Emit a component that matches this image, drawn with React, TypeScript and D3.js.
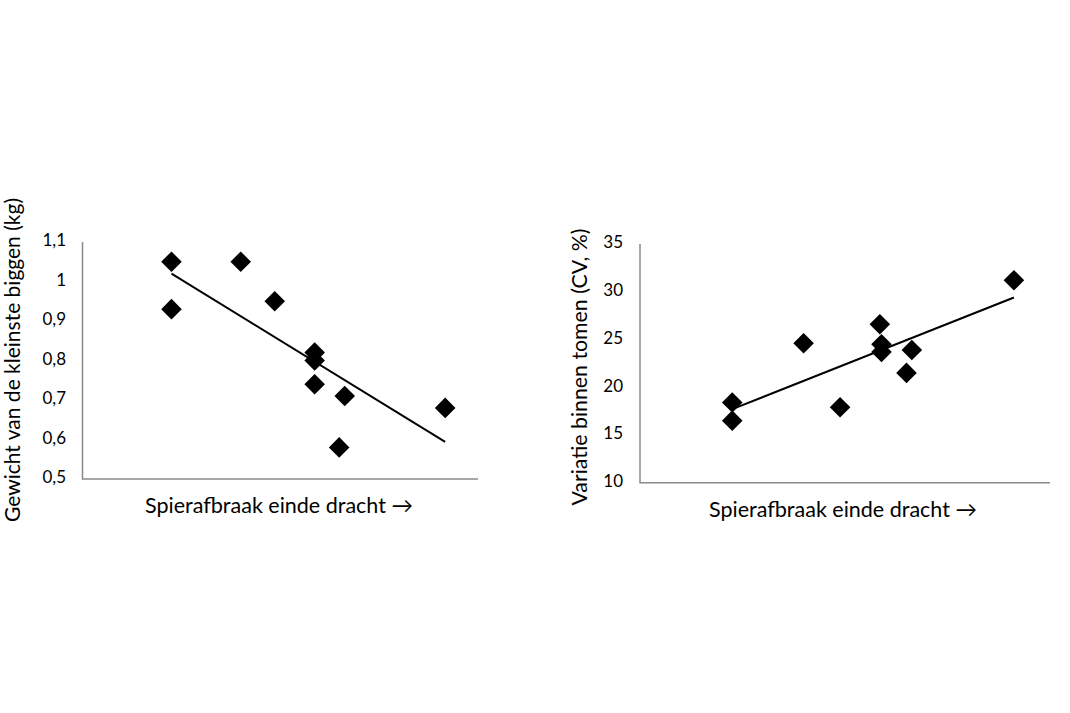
import React from "react";
import * as d3 from "d3";

// Left panel: weight of smallest piglets
const leftX = [2.25, 2.25, 4.0, 4.86, 5.87, 5.87, 5.87, 6.63, 6.49, 9.17];
const leftY = [1.05, 0.93, 1.05, 0.95, 0.82, 0.8, 0.74, 0.71, 0.58, 0.68];
const leftTrendX = [2.25, 9.17];
const leftTrendY = [1.02, 0.594];
const leftTicks = [0.5, 0.6, 0.7, 0.8, 0.9, 1.0, 1.1];
const leftTickLabels = ["0,5", "0,6", "0,7", "0,8", "0,9", "1", "1,1"];

// Right panel: variation within litters
const rightX = [2.25, 2.25, 3.99, 4.88, 5.85, 5.89, 5.89, 6.63, 6.5, 9.12];
const rightY = [18.4, 16.5, 24.6, 17.9, 26.6, 24.5, 23.7, 23.9, 21.5, 31.2];
const rightTrendX = [2.25, 9.12];
const rightTrendY = [17.7, 29.4];
const rightTicks = [10, 15, 20, 25, 30, 35];
const rightTickLabels = ["10", "15", "20", "25", "30", "35"];

const xTitle = "Spierafbraak einde dracht \u2192";
const leftYTitle = "Gewicht van de kleinste biggen (kg)";
const rightYTitle = "Variatie binnen tomen (CV, %)";

const FONT = "Lato, 'Open Sans', sans-serif";

type PanelProps = {
  xs: number[];
  ys: number[];
  tx: number[];
  ty: number[];
  ticks: number[];
  tickLabels: string[];
  yDomain: [number, number];
  xRange: [number, number];
  yRange: [number, number];
  tickX: number;
  yTitle: string;
  yTitleSize: number;
  yTitleX: number;
  yTitleY: number;
  xTitleX: number;
  xTitleY: number;
};

function Panel(p: PanelProps) {
  const x = d3.scaleLinear().domain([0, 10]).range(p.xRange);
  const y = d3.scaleLinear().domain(p.yDomain).range(p.yRange);
  const diamond = d3.symbol().type(d3.symbolDiamond2).size(270)();
  const line = d3
    .line<number>()
    .x((d, i) => x(p.tx[i]))
    .y((d) => y(d));
  const x0 = p.xRange[0];
  const y0 = p.yRange[0];
  return (
    <g>
      <path
        d={`M${x0},${p.yRange[1]}V${y0}H${p.xRange[1]}`}
        fill="none"
        stroke="#8a8a8a"
        strokeWidth={1.5}
      />
      {p.ticks.map((t, i) => (
        <text
          key={i}
          x={p.tickX}
          y={y(t)}
          textAnchor="end"
          dominantBaseline="middle"
          fontSize={17}
          fontFamily={FONT}
          fill="#000"
        >
          {p.tickLabels[i]}
        </text>
      ))}
      {p.xs.map((v, i) => (
        <path
          key={i}
          d={diamond!}
          transform={`translate(${x(v)},${y(p.ys[i])})`}
          fill="#000"
        />
      ))}
      <path d={line(p.ty)!} fill="none" stroke="#000" strokeWidth={2} />
      <text
        x={p.xTitleX}
        y={p.xTitleY}
        textAnchor="middle"
        fontSize={21.5}
        fontFamily={FONT}
        fill="#000"
      >
        {xTitle}
      </text>
      <text
        transform={`translate(${p.yTitleX},${p.yTitleY}) rotate(-90)`}
        textAnchor="middle"
        fontSize={p.yTitleSize}
        fontFamily={FONT}
        fill="#000"
      >
        {p.yTitle}
      </text>
    </g>
  );
}

export default function App() {
  return (
    <svg
      width={1070}
      height={713}
      style={{ position: "absolute", left: 0, top: 0, background: "#fff" }}
    >
      <rect width={1070} height={713} fill="#fff" />
      <Panel
        xs={leftX}
        ys={leftY}
        tx={leftTrendX}
        ty={leftTrendY}
        ticks={leftTicks}
        tickLabels={leftTickLabels}
        yDomain={[0.5, 1.1]}
        xRange={[82.5, 478]}
        yRange={[479, 242]}
        tickX={66}
        yTitle={leftYTitle}
        yTitleSize={21}
        yTitleX={20}
        yTitleY={360}
        xTitleX={279}
        xTitleY={513}
      />
      <Panel
        xs={rightX}
        ys={rightY}
        tx={rightTrendX}
        ty={rightTrendY}
        ticks={rightTicks}
        tickLabels={rightTickLabels}
        yDomain={[10, 35]}
        xRange={[640, 1050]}
        yRange={[482.7, 244]}
        tickX={623}
        yTitle={rightYTitle}
        yTitleSize={21.3}
        yTitleX={587}
        yTitleY={367}
        xTitleX={843}
        xTitleY={517}
      />
    </svg>
  );
}
